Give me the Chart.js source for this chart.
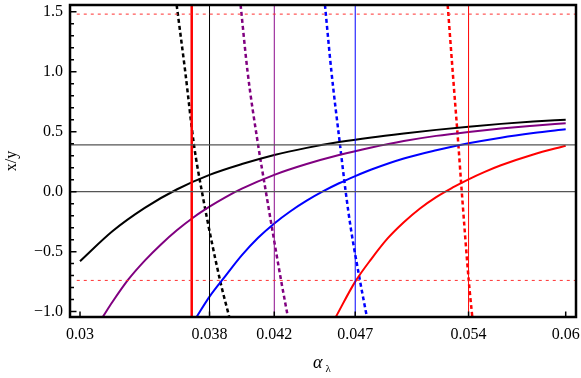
<!DOCTYPE html>
<html>
<head>
<meta charset="utf-8">
<script src="https://cdn.jsdelivr.net/npm/chart.js@4.4.0/dist/chart.umd.min.js"></script>
<style>
  html, body { margin: 0; padding: 0; background: #fff; }
  #wrap { width: 581px; height: 378px; }
</style>
</head>
<body>
<div id="wrap"><canvas id="chart"></canvas></div>
<script>
// solid curves
const blackX = [0.030, 0.032, 0.034, 0.036, 0.038, 0.040, 0.042, 0.044, 0.046, 0.048, 0.050, 0.052, 0.054, 0.056, 0.058, 0.060];
const blackY = [-0.58, -0.33, -0.135, 0.02, 0.14, 0.23, 0.306, 0.365, 0.413, 0.452, 0.485, 0.515, 0.542, 0.565, 0.584, 0.60];
const purpleX = [0.0314, 0.032, 0.033, 0.034, 0.035, 0.036, 0.037, 0.038, 0.039, 0.040, 0.042, 0.044, 0.046, 0.048, 0.050, 0.052, 0.054, 0.056, 0.058, 0.060];
const purpleY = [-1.045, -0.92, -0.73, -0.575, -0.44, -0.32, -0.215, -0.125, -0.045, 0.025, 0.14, 0.23, 0.305, 0.368, 0.422, 0.465, 0.498, 0.526, 0.549, 0.57];
const blueX = [0.0372, 0.038, 0.039, 0.040, 0.041, 0.042, 0.043, 0.044, 0.045, 0.046, 0.047, 0.048, 0.050, 0.052, 0.054, 0.056, 0.058, 0.060];
const blueY = [-1.045, -0.875, -0.70, -0.53, -0.385, -0.265, -0.163, -0.075, 0.002, 0.07, 0.13, 0.185, 0.277, 0.345, 0.403, 0.45, 0.488, 0.52];
const redX = [0.0458, 0.047, 0.048, 0.049, 0.050, 0.051, 0.052, 0.053, 0.054, 0.055, 0.056, 0.058, 0.060];
const redY = [-1.045, -0.75, -0.56, -0.39, -0.255, -0.14, -0.045, 0.033, 0.103, 0.165, 0.22, 0.31, 0.383];

// steep dashed curves
const blackDashX = [0.03597, 0.0365, 0.03704, 0.03753, 0.03865, 0.03922];
const blackDashY = [1.556, 1.0, 0.39, 0.0, -0.74, -1.045];
const purpleDashX = [0.03992, 0.04035, 0.041, 0.04148, 0.04242, 0.04284];
const purpleDashY = [1.556, 1.0, 0.39, 0.0, -0.74, -1.045];
const blueDashX = [0.04513, 0.04553, 0.04606, 0.04641, 0.04672, 0.04729, 0.04772];
const blueDashY = [1.556, 1.0, 0.39, 0.0, -0.3, -0.74, -1.045];
const redDashX = [0.05271, 0.05302, 0.05337, 0.05358, 0.05401, 0.05423];
const redDashY = [1.556, 1.0, 0.39, 0.0, -0.74, -1.045];

// reference lines
const vLineX = [0.0369, 0.038, 0.042, 0.047, 0.054];
const vLineColors = ['#ff0000', '#000000', '#8b0a8b', '#0000ff', '#ff0000'];
const vLineWidths = [2.5, 1, 1, 1, 1];
const hLineY = [0.0, 0.39];
const dottedY = [1.48, -0.74];

// axes
const xTicks = [0.03, 0.038, 0.042, 0.047, 0.054, 0.06];
const xTickLabels = ['0.03', '0.038', '0.042', '0.047', '0.054', '0.06'];
const yTicks = [-1.0, -0.5, 0.0, 0.5, 1.0, 1.5];
const yMinorTicks = [-1.0, -0.9, -0.8, -0.7, -0.6, -0.5, -0.4, -0.3, -0.2, -0.1, 0.0,
  0.1, 0.2, 0.3, 0.4, 0.5, 0.6, 0.7, 0.8, 0.9, 1.0, 1.1, 1.2, 1.3, 1.4, 1.5];
const xMin = 0.029382, xMax = 0.060636;
const yMin = -1.045, yMax = 1.556;

const SERIF = "'Liberation Serif', 'Times New Roman', serif";

const pts = (xs, ys) => xs.map((x, i) => ({ x: x, y: ys[i] }));

const datasets = [];

// horizontal gray lines
hLineY.forEach(v => {
  datasets.push({
    data: [{ x: xMin, y: v }, { x: xMax, y: v }],
    borderColor: '#555555', borderWidth: 1.2, pointRadius: 0
  });
});
// red dotted horizontals
dottedY.forEach(v => {
  datasets.push({
    data: [{ x: 0.0298, y: v }, { x: xMax, y: v }],
    borderColor: '#ff3030', borderWidth: 1, borderDash: [3, 4], pointRadius: 0
  });
});
// verticals
vLineX.forEach((v, i) => {
  datasets.push({
    data: [{ x: v, y: yMin }, { x: v, y: yMax }],
    borderColor: vLineColors[i], borderWidth: vLineWidths[i], pointRadius: 0
  });
});

const curve = (xs, ys, color) => ({
  data: pts(xs, ys), borderColor: color, borderWidth: 2,
  pointRadius: 0, cubicInterpolationMode: 'monotone'
});
const dashCurve = (xs, ys, color) => ({
  data: pts(xs, ys), borderColor: color, borderWidth: 2.5, borderDash: [4, 3],
  pointRadius: 0, cubicInterpolationMode: 'monotone'
});

datasets.push(curve(redX, redY, '#ff0000'));
datasets.push(curve(blueX, blueY, '#0000ff'));
datasets.push(curve(purpleX, purpleY, '#800080'));
datasets.push(curve(blackX, blackY, '#000000'));
datasets.push(dashCurve(blackDashX, blackDashY, '#000000'));
datasets.push(dashCurve(purpleDashX, purpleDashY, '#800080'));
datasets.push(dashCurve(blueDashX, blueDashY, '#0000ff'));
datasets.push(dashCurve(redDashX, redDashY, '#ff0000'));

// frame, inward ticks and the alpha_lambda title
const framePlugin = {
  id: 'frame',
  afterDraw(chart) {
    const ctx = chart.ctx;
    const a = chart.chartArea;
    const xs = chart.scales.x, ys = chart.scales.y;
    ctx.save();
    ctx.strokeStyle = '#000';
    ctx.lineWidth = 1.5;
    ctx.beginPath();
    yMinorTicks.forEach(v => {
      const py = ys.getPixelForValue(v);
      const major = Math.abs(v * 2 - Math.round(v * 2)) < 1e-6;
      ctx.moveTo(a.left, py);
      ctx.lineTo(a.left + (major ? 6.5 : 4), py);
    });
    xTicks.forEach(v => {
      const px = xs.getPixelForValue(v);
      ctx.moveTo(px, a.bottom);
      ctx.lineTo(px, a.bottom - 5.5);
    });
    ctx.stroke();
    ctx.lineWidth = 2.5;
    ctx.strokeRect(a.left, a.top, a.right - a.left, a.bottom - a.top);

    ctx.fillStyle = '#000';
    ctx.textBaseline = 'alphabetic';
    ctx.textAlign = 'left';
    ctx.font = 'italic 18px ' + SERIF;
    ctx.fillText('α', 313, 367.5);
    ctx.font = '11px ' + SERIF;
    ctx.fillText('λ', 325.5, 371.5);
    ctx.restore();
  }
};

new Chart(document.getElementById('chart'), {
  type: 'scatter',
  data: { datasets: datasets },
  options: {
    responsive: true,
    maintainAspectRatio: false,
    animation: false,
    showLine: true,
    layout: { padding: { top: 5, right: 5, left: 0, bottom: 0 } },
    plugins: { legend: { display: false }, tooltip: { enabled: false } },
    elements: { line: { fill: false } },
    scales: {
      x: {
        type: 'linear', min: xMin, max: xMax,
        afterBuildTicks: s => { s.ticks = xTicks.map(v => ({ value: v })); },
        afterFit: s => { s.height = 61; s.paddingLeft = 0; s.paddingRight = 0; },
        grid: { display: false, drawTicks: false },
        border: { display: false },
        ticks: {
          autoSkip: false, maxRotation: 0, padding: 8, color: '#000',
          font: { family: SERIF, size: 16 },
          callback: (v, i) => xTickLabels[i]
        }
      },
      y: {
        type: 'linear', min: yMin, max: yMax,
        afterBuildTicks: s => { s.ticks = yTicks.map(v => ({ value: v })); },
        afterFit: s => { s.width = 70; s.paddingTop = 0; s.paddingBottom = 0; },
        grid: { display: false, drawTicks: false },
        border: { display: false },
        title: {
          display: true, text: 'x/y', color: '#000',
          font: { family: SERIF, size: 16 },
          padding: { top: 2, bottom: 0 }
        },
        ticks: {
          padding: 7, color: '#000',
          font: { family: SERIF, size: 16 },
          callback: v => (v < 0 ? '\u2212' + Math.abs(v).toFixed(1) : v.toFixed(1))
        }
      }
    }
  },
  plugins: [framePlugin]
});
</script>
</body>
</html>
